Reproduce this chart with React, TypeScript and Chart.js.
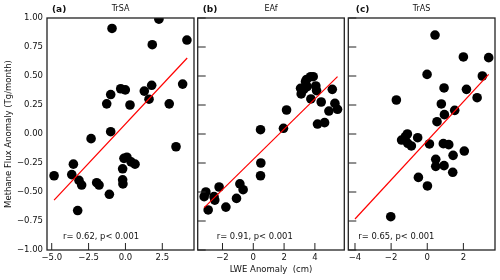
import React, { useEffect, useRef } from "react";
import { Chart, registerables } from "chart.js";
Chart.register(...registerables);

// ---- data ----
const yTicks = [-1, -0.75, -0.5, -0.25, 0, 0.25, 0.5, 0.75, 1];
const panelLabels = ["(a)", "(b)", "(c)"];
const panelTitles = ["TrSA", "EAf", "TrAS"];
const statTexts = ["r= 0.62, p< 0.001", "r= 0.91, p< 0.001", "r= 0.65, p< 0.001"];
const yAxisTitle = "Methane Flux Anomaly (Tg/month)";
const xAxisTitle = "LWE Anomaly  (cm)";

const xTicksA = [-5, -2.5, 0, 2.5];
const xTicksB = [-2, 0, 2, 4];
const xTicksC = [-4, -2, 0, 2];

const lweA = [-4.84, -3.64, -3.53, -3.15, -2.97, -3.24, -2.33, -1.95, -1.79, -1.09, -1.27, -1.0, -1.0, -0.91, -0.32, -0.01, 0.31, -0.19, -0.1, 0.1, -0.19, -0.17, 0.38, 0.65, 1.28, 1.6, 1.78, 1.82, 2.27, 2.97, 3.43, 3.88, 4.17];
const fluxA = [-0.36, -0.35, -0.26, -0.4, -0.44, -0.66, -0.04, -0.42, -0.44, -0.52, 0.26, 0.34, 0.02, 0.91, 0.39, 0.38, 0.25, -0.3, -0.21, -0.2, -0.395, -0.43, -0.24, -0.26, 0.37, 0.3, 0.42, 0.77, 0.99, 0.26, -0.11, 0.43, 0.81];
const fitXA = [-4.84, 4.19];
const fitYA = [-0.57, 0.655];

const lweB = [-3.08, -3.19, -2.93, -2.55, -2.5, -2.22, -1.78, -1.09, -0.87, -0.66, 0.47, 0.49, 0.47, 1.96, 2.16, 3.07, 3.11, 3.28, 3.39, 3.46, 3.72, 3.89, 3.5, 3.74, 4.06, 4.11, 4.41, 4.17, 4.63, 4.91, 5.13, 5.3, 5.47];
const fluxB = [-0.5, -0.54, -0.655, -0.54, -0.57, -0.457, -0.63, -0.555, -0.43, -0.48, 0.037, -0.25, -0.36, 0.049, 0.207, 0.394, 0.345, 0.385, 0.451, 0.47, 0.494, 0.494, 0.408, 0.302, 0.414, 0.374, 0.276, 0.086, 0.098, 0.198, 0.385, 0.264, 0.213];
const fitXB = [-3.19, 5.47];
const fitYB = [-0.635, 0.494];

const lweC = [-2.02, -1.71, -1.42, -1.21, -1.1, -1.08, -0.88, -0.53, -0.49, 0.01, -0.01, 0.43, 0.12, 0.47, 0.47, 0.54, 0.78, 0.93, 0.95, 0.89, 0.93, 1.19, 1.43, 1.41, 1.52, 2.0, 2.05, 2.17, 2.76, 3.05, 3.4];
const fluxC = [-0.713, 0.293, -0.052, -0.023, 0.0, -0.08, -0.103, -0.032, -0.374, -0.448, 0.514, 0.853, -0.086, -0.218, -0.279, 0.106, 0.259, 0.397, 0.167, -0.083, -0.273, -0.092, -0.184, -0.33, 0.204, 0.664, -0.147, 0.385, 0.313, 0.5, 0.658];
const fitXC = [-4.0, 3.4];
const fitYC = [-0.733, 0.514];

// ---- layout / style ----
const W = 500;
const H = 280;
const FONT = "'DejaVu Sans', 'Liberation Sans', sans-serif";
const TEXT = "#111";

type Panel = {
  xs: number[];
  ys: number[];
  fx: number[];
  fy: number[];
  xTicks: number[];
  xMin: number;
  xMax: number;
  xDec: number;
  padLeft: number;
  padRight: number;
  labelDx: number;
  statDx: number;
};

const panels: Panel[] = [
  { xs: lweA, ys: fluxA, fx: fitXA, fy: fitYA, xTicks: xTicksA, xMin: -5.32, xMax: 4.65, xDec: 1, padLeft: 0, padRight: 306, labelDx: 5, statDx: 16 },
  { xs: lweB, ys: fluxB, fx: fitXB, fy: fitYB, xTicks: xTicksB, xMin: -3.61, xMax: 5.91, xDec: 0, padLeft: 197.7, padRight: 155.7, labelDx: 5, statDx: 19 },
  { xs: lweC, ys: fluxC, fx: fitXC, fy: fitYC, xTicks: xTicksC, xMin: -4.37, xMax: 3.75, xDec: 0, padLeft: 348.3, padRight: 5, labelDx: 7.5, statDx: 10 },
];

const fmt = (v: number, d: number) => (v < 0 ? "\u2212" : "") + Math.abs(v).toFixed(d);

function makeChart(canvas: HTMLCanvasElement, i: number) {
  const p = panels[i];
  const decorate = {
    id: "decorate" + i,
    afterDraw(chart: any) {
      const { ctx, chartArea: ca, scales } = chart;
      ctx.save();
      ctx.strokeStyle = "#222";
      ctx.lineWidth = 1;
      ctx.beginPath();
      for (const v of p.xTicks) {
        const px = scales.x.getPixelForValue(v);
        ctx.moveTo(px, ca.bottom);
        ctx.lineTo(px, ca.bottom - 7);
      }
      if (i > 0) {
        for (const v of yTicks) {
          const py = scales.y.getPixelForValue(v);
          ctx.moveTo(ca.left, py);
          ctx.lineTo(ca.left + 8, py);
        }
      }
      ctx.stroke();
      ctx.lineWidth = 1.3;
      ctx.strokeRect(ca.left, ca.top, ca.right - ca.left, ca.bottom - ca.top);

      ctx.fillStyle = TEXT;
      ctx.textBaseline = "middle";
      ctx.textAlign = "left";
      ctx.font = `bold 9px ${FONT}`;
      ctx.fillText(panelLabels[i], ca.left + p.labelDx, 9.2);
      ctx.font = `8px ${FONT}`;
      ctx.textAlign = "center";
      ctx.fillText(panelTitles[i], (ca.left + ca.right) / 2, 8.5);
      ctx.font = `8.4px ${FONT}`;
      ctx.textAlign = "left";
      ctx.fillText(statTexts[i], ca.left + p.statDx, 236.5);
      ctx.restore();
    },
  };

  return new Chart(canvas, {
    type: "scatter",
    data: {
      datasets: [
        {
          type: "line",
          data: p.fx.map((x, k) => ({ x, y: p.fy[k] })),
          borderColor: "#ff0000",
          borderWidth: 1.2,
          pointRadius: 0,
          fill: false,
          clip: 0,
        } as any,
        {
          data: p.xs.map((x, k) => ({ x, y: p.ys[k] })),
          backgroundColor: "#000",
          borderWidth: 0,
          pointRadius: 4.8,
          pointHoverRadius: 4.8,
          clip: 0,
        },
      ],
    },
    options: {
      responsive: false,
      animation: false,
      devicePixelRatio: 1,
      events: [],
      layout: { padding: { left: p.padLeft, right: p.padRight, top: 18, bottom: 0 } },
      plugins: { legend: { display: false }, tooltip: { enabled: false } },
      scales: {
        x: {
          type: "linear",
          min: p.xMin,
          max: p.xMax,
          afterBuildTicks: (s: any) => {
            s.ticks = p.xTicks.map((v) => ({ value: v }));
          },
          afterFit: (s: any) => {
            s.height = 30;
          },
          grid: { display: false, drawTicks: false, tickLength: 0 },
          border: { display: false },
          ticks: {
            padding: 3,
            autoSkip: false,
            maxRotation: 0,
            color: TEXT,
            font: { size: 8.5, family: FONT },
            callback: (v: any) => fmt(Number(v), p.xDec),
          },
          title: {
            display: i === 1,
            text: xAxisTitle,
            color: TEXT,
            font: { size: 8.5, family: FONT },
            padding: { top: 0, bottom: 5 },
          },
        },
        y: {
          type: "linear",
          display: i === 0,
          min: -1,
          max: 1,
          afterBuildTicks: (s: any) => {
            s.ticks = yTicks.map((v) => ({ value: v }));
          },
          afterFit: (s: any) => {
            s.width = i === 0 ? 47 : 0;
          },
          grid: { display: false, drawTicks: false, tickLength: 0 },
          border: { display: false },
          ticks: {
            padding: 4,
            autoSkip: false,
            color: TEXT,
            font: { size: 8.5, family: FONT },
            callback: (v: any) => fmt(Number(v), 2),
          },
          title: {
            display: true,
            text: yAxisTitle,
            color: TEXT,
            font: { size: 8.5, family: FONT },
            padding: { top: 4, bottom: 0 },
          },
        },
      },
    },
    plugins: [decorate],
  } as any);
}

export default function App() {
  const r0 = useRef<HTMLCanvasElement>(null);
  const r1 = useRef<HTMLCanvasElement>(null);
  const r2 = useRef<HTMLCanvasElement>(null);

  useEffect(() => {
    const refs = [r0, r1, r2];
    const charts = refs.map((r, i) => makeChart(r.current as HTMLCanvasElement, i));
    return () => charts.forEach((c) => c.destroy());
  }, []);

  const cs: React.CSSProperties = { position: "absolute", left: 0, top: 0, width: W, height: H };
  return (
    <div style={{ position: "fixed", left: 0, top: 0, width: W, height: H, background: "#fff" }}>
      <canvas ref={r0} width={W} height={H} style={cs} />
      <canvas ref={r1} width={W} height={H} style={cs} />
      <canvas ref={r2} width={W} height={H} style={cs} />
    </div>
  );
}
